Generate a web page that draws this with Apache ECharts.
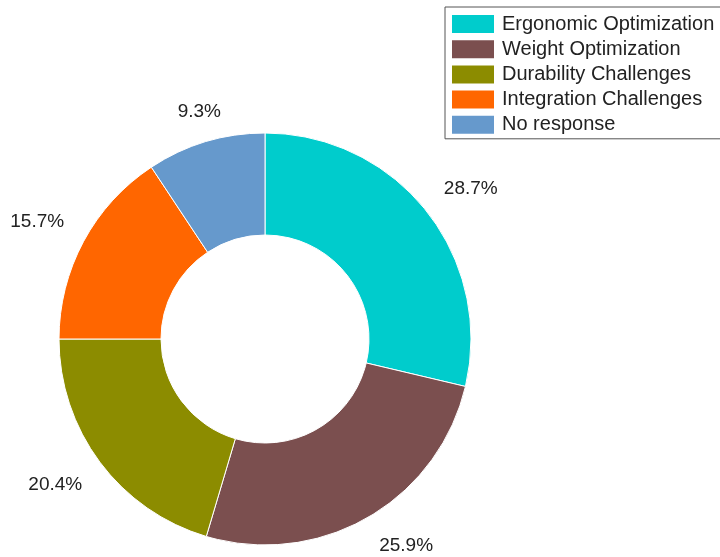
<!DOCTYPE html>
<html>
<head>
<meta charset="utf-8">
<script src="https://cdn.jsdelivr.net/npm/echarts@6/dist/echarts.min.js"></script>
<style>
  html, body { margin: 0; padding: 0; background: #fff; }
</style>
</head>
<body>
<div id="chart" style="width: 720px; height: 557px"></div>
<script>
// categories and shares (%), clockwise from 12 o'clock
const categories = [
  "Ergonomic Optimization",
  "Weight Optimization",
  "Durability Challenges",
  "Integration Challenges",
  "No response",
];
const shares = [28.7, 25.9, 20.4, 15.7, 9.3];
const colors = ["#00CCCC", "#7B4F4F", "#8C8C00", "#FF6600", "#6699CC"];

const pieData = categories.map((name, i) => ({ name: name, value: shares[i] }));

const cx = 265, cy = 339, rOuter = 206, rInner = 104;
const labelDist = 228; // radius where the label box corner sits

// mid angle of each slice, radians, measured clockwise from 12 o'clock
const total = shares.reduce((a, b) => a + b, 0);
const midAngles = [];
let acc = 0;
shares.forEach((v) => {
  midAngles.push(((acc + v / 2) / total) * Math.PI * 2);
  acc += v;
});

const myChart = echarts.init(document.getElementById("chart"));
myChart.setOption({
  color: colors,
  animation: false,
  legend: {
    orient: "vertical",
    left: 445,
    top: 7,
    padding: [6, 8, 3, 5],
    itemWidth: 44,
    itemHeight: 20,
    itemGap: 3.2,
    borderColor: "#555",
    borderWidth: 1,
    icon: "rect",
    textStyle: {
      fontFamily: "Liberation Sans",
      fontSize: 20,
      lineHeight: 20,
      color: "#222",
      padding: [0, 0, 0, 2],
    },
    data: categories,
  },
  series: [
    {
      type: "pie",
      center: [cx, cy],
      radius: [rInner, rOuter],
      startAngle: 90,
      clockwise: true,
      avoidLabelOverlap: false,
      itemStyle: { borderColor: "#fff", borderWidth: 1 },
      label: {
        show: true,
        position: "outside",
        formatter: (p) => p.value.toFixed(1) + "%",
        fontFamily: "Liberation Sans",
        fontSize: 19,
        lineHeight: 18,
        color: "#222",
      },
      labelLine: { show: false },
      // put the label box so its nearest corner touches a ring just outside the donut
      labelLayout: function (params) {
        const a = midAngles[params.dataIndex];
        const ux = Math.sin(a), uy = -Math.cos(a);
        let align = ux > 0 ? "left" : "right";
        if (Math.abs(ux) < Math.sin(Math.PI / 8)) align = "center";
        return {
          x: cx + labelDist * ux,
          y: cy + labelDist * uy,
          align: align,
          verticalAlign: uy > 0 ? "top" : "bottom",
        };
      },
      emphasis: { disabled: true },
      data: pieData,
    },
  ],
});
</script>
</body>
</html>
